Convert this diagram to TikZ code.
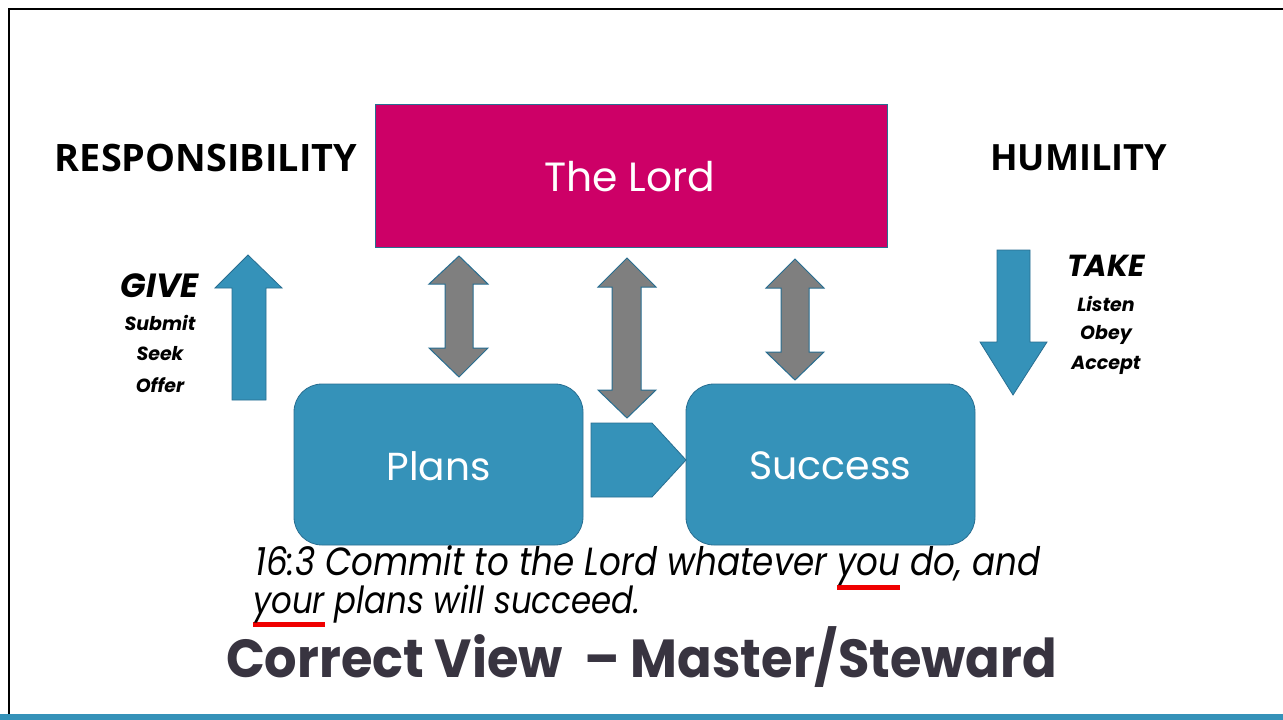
\documentclass[tikz,border=0pt]{standalone}
\usepackage{fontspec}
\setmainfont{Poppins}
\newfontfamily\osans{Open Sans}
\usepackage{graphicx}
\definecolor{teal}{RGB}{53,146,185}
\definecolor{tealdark}{RGB}{40,110,145}
\definecolor{magenta}{RGB}{205,0,103}
\definecolor{arrowgray}{RGB}{127,127,127}
\definecolor{titlegray}{RGB}{56,52,64}
\definecolor{ulred}{RGB}{240,0,0}
\newcommand\redul[1]{\setbox0\hbox{#1}\rlap{\color{ulred}\rule[-0.38em]{\wd0}{0.13em}}#1}
\tikzset{
  bluebox/.style={fill=teal,draw=tealdark,line width=0.8pt,rounded corners=28pt},
  grayarrow/.style={fill=arrowgray,draw=tealdark,line width=1pt},
  bluearrow/.style={fill=teal,draw=tealdark,line width=0.8pt},
  boxtext/.style={text=white,font=\fontsize{40}{48}\selectfont},
  headword/.style={font=\osans\bfseries\fontsize{36}{42}\selectfont,text=black},
  verbword/.style={font=\bfseries\itshape\fontsize{30}{34}\selectfont,text=black},
  subword/.style={font=\bfseries\itshape\fontsize{19}{20}\selectfont,text=black},
  versetext/.style={anchor=west,inner sep=0pt,font=\itshape\fontsize{30}{36}\selectfont},
}
\begin{document}
\begin{tikzpicture}[x=1pt,y=-1pt]
\useasboundingbox (0,0) rectangle (1283,720);
\fill[white] (0,0) rectangle (1283,720);
% frame
\draw[black,line width=2.5pt] (9,720) -- (9,9) -- (1283,9);
\fill[teal] (0,714) rectangle (1283,720);
% The Lord box
\node[fill=magenta,draw=tealdark,line width=0.8pt,minimum width=512pt,minimum height=143pt,inner sep=0pt] (lord) at (631,175.5) {};
\node[boxtext] (lordtext) at (630,177) {\resizebox{171pt}{!}{The Lord}};
% Plans and Success
\draw[bluebox] (294,384) rectangle (583,545);
\node[boxtext] (plans) at (438.5,466) {\resizebox{104pt}{!}{Plans}};
\draw[bluebox] (686,384) rectangle (975,545);
\node[boxtext] (success) at (830.5,466) {\resizebox{162pt}{!}{Success}};
% pentagon
\draw[bluearrow] (591,423) -- (652,423) -- (686,460) -- (652,497) -- (591,497) -- cycle;
% gray double arrows
\draw[grayarrow] (459,256) -- (488,284) -- (473,284) -- (473,348) -- (488,348) -- (459,377) -- (429,348) -- (445,348) -- (445,284) -- (429,284) -- cycle;
\draw[grayarrow] (627,258) -- (656,287) -- (641,287) -- (641,390) -- (656,390) -- (627,418) -- (598,390) -- (612,390) -- (612,287) -- (598,287) -- cycle;
\draw[grayarrow] (795,259) -- (824,288) -- (809,288) -- (809,352) -- (824,352) -- (795,380) -- (766,352) -- (781,352) -- (781,288) -- (766,288) -- cycle;
% blue up / down arrows
\draw[bluearrow] (248,255) -- (282,288) -- (266,288) -- (266,400) -- (232,400) -- (232,288) -- (215,288) -- cycle;
\draw[bluearrow] (1013,395) -- (1047,342) -- (1030,342) -- (1030,250) -- (997,250) -- (997,342) -- (980,342) -- cycle;
% headings
\node[headword] (resp) at (206,158) {\resizebox{302pt}{!}{RESPONSIBILITY}};
\node[headword] (hum) at (1078.5,158) {\resizebox{177pt}{!}{HUMILITY}};
\node[verbword] (give) at (160,286) {\resizebox{78pt}{!}{GIVE}};
\node[subword] (submit) at (160,323) {Submit};
\node[subword] (seek) at (160,354) {Seek};
\node[subword] (offer) at (160,385) {Offer};
\node[verbword] (take) at (1106,266) {\resizebox{78pt}{!}{TAKE}};
\node[subword] (listen) at (1106,304) {Listen};
\node[subword] (obey) at (1106,335) {Obey};
\node[subword] (accept) at (1106,365) {Accept};
% verse
\node[versetext] (verse1) at (255,568) {\scalebox{1}[1.15]{\resizebox{785pt}{!}{16:3 Commit to the Lord whatever \redul{you} do, and}}};
\node[versetext] (verse2) at (253,606) {\scalebox{1}[1.15]{\resizebox{387pt}{!}{\redul{your} plans will succeed.}}};
% title
\node[inner sep=0pt,text=titlegray,font=\bfseries\fontsize{50}{56}\selectfont] (title) at (641.5,657) {\scalebox{1}[1.05]{\resizebox{831pt}{!}{Correct View\ \ -- Master/Steward}}};
\end{tikzpicture}
\end{document}
